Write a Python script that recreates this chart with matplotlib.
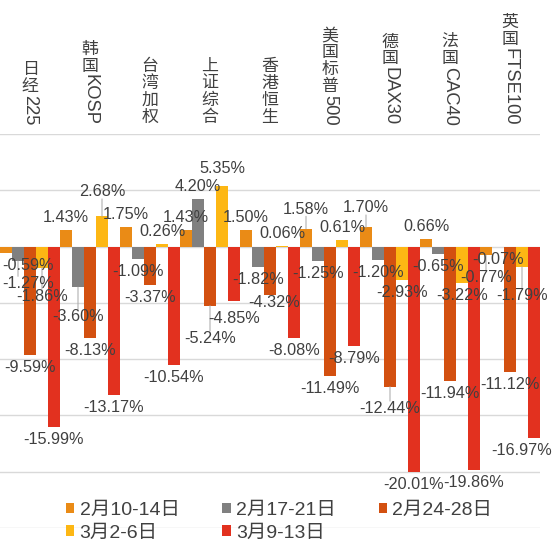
import matplotlib
matplotlib.use('Agg')
import matplotlib.pyplot as plt
from matplotlib.transforms import IdentityTransform
import numpy as np

plt.rcParams['font.family'] = ['Liberation Sans', 'Noto Sans CJK SC', 'DejaVu Sans']

# ---------------- data ----------------
categories = ['日经225', '韩国KOSP', '台湾加权', '上证综合', '香港恒生',
              '美国标普500', '德国DAX30', '法国CAC40', '英国FTSE100']
series_names = ['2月10-14日', '2月17-21日', '2月24-28日', '3月2-6日', '3月9-13日']
feb10_14 = [-0.59, 1.43, 1.75, 1.43, 1.50, 1.58, 1.70, 0.66, -0.77]
feb17_21 = [-1.27, -3.60, -1.09, 4.20, -1.82, -1.25, -1.20, -0.65, -0.07]
feb24_28 = [-9.59, -8.13, -3.37, -5.24, -4.32, -11.49, -12.44, -11.94, -11.12]
mar2_6 = [-1.86, 2.68, 0.26, 5.35, 0.06, 0.61, -2.93, -3.22, -1.79]
mar9_13 = [-15.99, -13.17, -10.54, -4.85, -8.08, -8.79, -20.01, -19.86, -16.97]
series = [feb10_14, feb17_21, feb24_28, mar2_6, mar9_13]

# ---------------- style ----------------
colors = ['#EA8B16', '#808080', '#D35010', '#FDB714', '#E2311F']
text_color = '#404040'
grid_color = '#D9D9D9'
W = H = 554
DPI = 100
PX = 72.0 / DPI  # points per pixel

# label adjustments (px): (dx, extra distance from bar end)
label_adjust = {
    (0, 0): (22, 0), (0, 1): (10, 10), (0, 3): (0, 16),
    (1, 1): (0, 17), (1, 3): (0, 12),
    (3, 2): (0, 20), (3, 3): (0, 5), (3, 4): (0, 5),
    (4, 2): (4, -5),
    (5, 0): (0, 7), (6, 0): (0, 7), (6, 2): (0, 9),
    (8, 0): (0, 10), (8, 3): (0, 16), (8, 4): (-12, 0),
}

fig = plt.figure(figsize=(W / DPI, H / DPI), dpi=DPI)
ax_left, ax_right = 0 / W, 540 / W
ax_top, ax_bot = 134, 528
ax = fig.add_axes([ax_left, (H - ax_bot) / H, ax_right - ax_left, (ax_bot - ax_top) / H])

n_cat = len(categories)
n_ser = len(series)
bar_w = 0.2
x = np.arange(n_cat)

handles = []
for j, vals in enumerate(series):
    xs = x + (j - (n_ser - 1) / 2) * bar_w
    b = ax.bar(xs, vals, width=bar_w, color=colors[j], label=series_names[j], zorder=3)
    handles.append(b)
    for i, v in enumerate(vals):
        dx, extra = label_adjust.get((i, j), (0, 0))
        sign = 1 if v >= 0 else -1
        dist = 12.5 + extra
        ax.annotate(f'{v:.2f}%', xy=(xs[i], v),
                    xytext=(dx * PX, sign * dist * PX), textcoords='offset points',
                    ha='center', va='center', fontsize=11.7, color=text_color,
                    zorder=5, annotation_clip=False)
        if extra >= 7:
            ax.annotate('', xy=(xs[i], v),
                        xytext=(0, sign * (dist - 7) * PX), textcoords='offset points',
                        arrowprops=dict(arrowstyle='-', color='#A6A6A6', lw=0.7,
                                        shrinkA=0, shrinkB=0),
                        annotation_clip=False, zorder=4)

ax.set_xlim(-0.5, n_cat - 0.5)
ax.set_ylim(-25, 10)
ax.set_yticks(np.arange(-25, 10.1, 5))
ax.yaxis.grid(True, color=grid_color, lw=1.0, zorder=0)
ax.tick_params(left=False, bottom=False, labelleft=False, labelbottom=False)
for s in ax.spines.values():
    s.set_visible(False)
ax.set_facecolor('none')

# ---------------- vertical category labels ----------------
cjk_fs = 12.2
latin_fs = 13.2
cjk_step = 17.0
renderer = fig.canvas.get_renderer()


def split_runs(s):
    out, buf = [], ''
    for ch in s:
        if ord(ch) > 0x2E80:
            if buf:
                out.append((buf, False))
                buf = ''
            out.append((ch, True))
        else:
            buf += ch
    if buf:
        out.append((buf, False))
    return out


bottom_px = H - 126  # display coords (origin bottom)
for i, name in enumerate(categories):
    xd = ax.transData.transform((i, 0))[0]
    runs = split_runs(name)
    y = bottom_px
    for txt, cjk in reversed(runs):
        if cjk:
            h = cjk_step
            fig.text(xd, y + h / 2, txt, transform=IdentityTransform(),
                     ha='center', va='center', fontsize=cjk_fs, color=text_color)
        else:
            t = fig.text(0, 0, txt, fontsize=latin_fs, transform=IdentityTransform())
            wpx = t.get_window_extent(renderer).width
            t.remove()
            fig.text(xd, y + (wpx + 1) / 2, txt, transform=IdentityTransform(),
                     ha='center', va='center', rotation=270, fontsize=latin_fs,
                     color=text_color)
            h = wpx + 0.5
        y += h

# ---------------- legend ----------------
order = [0, 3, 1, 4, 2]
leg = ax.legend([handles[k] for k in order], [series_names[k] for k in order],
                ncol=3, loc='upper left',
                bbox_to_anchor=(66 / W, (H - 502) / H), bbox_transform=fig.transFigure,
                frameon=False, fontsize=14, handlelength=0.42, handleheight=0.42,
                handletextpad=0.28, columnspacing=2.2, labelspacing=0.28,
                borderpad=0, borderaxespad=0, labelcolor=text_color)

fig.savefig('out.png', dpi=DPI)
